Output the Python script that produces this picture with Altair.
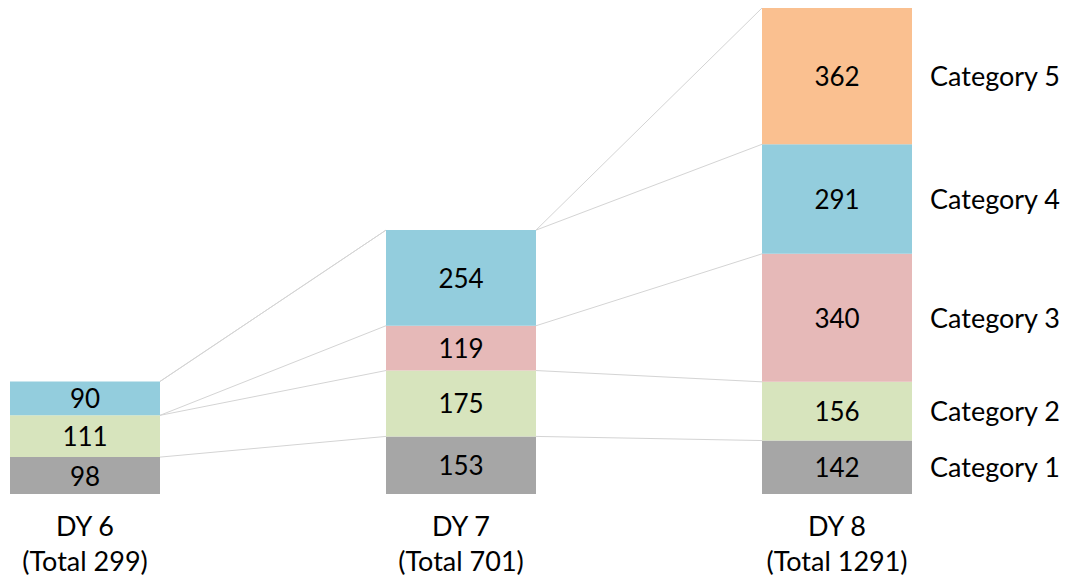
import altair as alt
import pandas as pd

groups = ["DY 6", "DY 7", "DY 8"]
categories = ["Category 1", "Category 2", "Category 3", "Category 4", "Category 5"]
cat1 = [98, 153, 142]
cat2 = [111, 175, 156]
cat3 = [0, 119, 340]
cat4 = [90, 254, 291]
cat5 = [0, 0, 362]
colors = ["#a6a6a6", "#d7e4bd", "#e6b9b8", "#93cddd", "#fac090"]

series = [cat1, cat2, cat3, cat4, cat5]
HW = 75 / 376  # half bar width in x units
FONT = "Lato"

# stacked segments
seg_rows = []
tops = {c: [] for c in categories}
for i, g in enumerate(groups):
    base = 0
    for c, vals in zip(categories, series):
        v = vals[i]
        top = base + v
        tops[c].append(top)
        if v > 0:
            seg_rows.append(dict(group=g, pos=i, x0=i - HW, x1=i + HW, y0=base, y1=top,
                                 mid=(base + top) / 2, value=v, category=c))
        base = top
seg = pd.DataFrame(seg_rows)

# connectors between adjacent bars
con_rows = []
for c in categories:
    for i in range(len(groups) - 1):
        con_rows.append(dict(category=c, x=i + HW, x2=i + 1 - HW, y=tops[c][i], y2=tops[c][i + 1]))
con = pd.DataFrame(con_rows)

# bottom labels
totals = [sum(s[i] for s in series) for i in range(len(groups))]
bot = pd.DataFrame(dict(pos=list(range(len(groups))),
                        label=[f"{g}\n(Total {t})" for g, t in zip(groups, totals)],
                        y=[0] * len(groups)))

last = seg[seg["pos"] == len(groups) - 1].copy()
last["xr"] = last["pos"] + HW

xs = alt.Scale(domain=[-85 / 376, -85 / 376 + 1074 / 376])
ys = alt.Scale(domain=[-241.7, 1312.3])

lines = alt.Chart(con).mark_rule(color="#d4d4d4", strokeWidth=1).encode(
    x=alt.X("x:Q", scale=xs, axis=None), x2="x2:Q",
    y=alt.Y("y:Q", scale=ys, axis=None), y2="y2:Q")

bars = alt.Chart(seg).mark_rect().encode(
    x=alt.X("x0:Q", scale=xs, axis=None), x2="x1:Q",
    y=alt.Y("y0:Q", scale=ys, axis=None), y2="y1:Q",
    color=alt.Color("category:N", scale=alt.Scale(domain=categories, range=colors), legend=None))

vals = alt.Chart(seg).mark_text(font=FONT, fontSize=26, color="#000000", baseline="middle", dy=2).encode(
    x=alt.X("pos:Q", scale=xs, axis=None),
    y=alt.Y("mid:Q", scale=ys, axis=None),
    text="value:Q")

cats = alt.Chart(last).mark_text(font=FONT, fontSize=27, color="#000000", align="left",
                                 baseline="middle", dx=18, dy=2).encode(
    x=alt.X("xr:Q", scale=xs, axis=None),
    y=alt.Y("mid:Q", scale=ys, axis=None),
    text="category:N")

bottom = alt.Chart(bot).mark_text(font=FONT, fontSize=27, color="#000000", baseline="top",
                                  lineBreak="\n", lineHeight=35, dy=21).encode(
    x=alt.X("pos:Q", scale=xs, axis=None),
    y=alt.Y("y:Q", scale=ys, axis=None),
    text="label:N")

chart = alt.layer(lines, bars, vals, cats, bottom).properties(
    width=1074, height=585, padding=0,
    autosize=alt.AutoSizeParams(type="none"),
    background="white",
).configure_view(stroke=None)

chart.save("out.html", embed_options={"renderer": "svg", "actions": False})
